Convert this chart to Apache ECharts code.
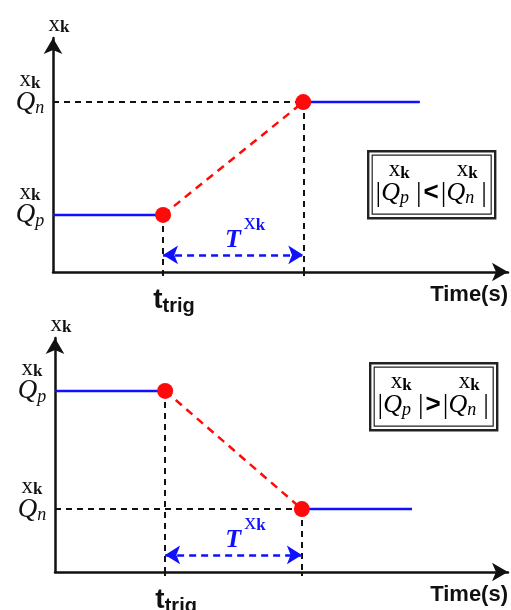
<!DOCTYPE html>
<html>
<head>
<meta charset="utf-8">
<script src="https://cdn.jsdelivr.net/npm/echarts@6/dist/echarts.min.js"></script>
<style>
  html, body { margin: 0; padding: 0; background: #fff; }
  #chart { width: 511px; height: 610px; }
</style>
</head>
<body>
<div id="chart"></div>
<script>
// Axis extents shared by both panels
const timeMax = 16;
const levelMax = 10;

// Upper panel: rising transition, |Qp| < |Qn|
// times: trace start, t_trig, t_trig + T, trace end
const upTimes = [0, 3.87, 8.8, 12.9];
const upQp = 2.44;
const upQn = 7.26;

// Lower panel: falling transition, |Qp| > |Qn|
const downTimes = [0, 3.89, 8.72, 12.61];
const downQp = 7.74;
const downQn = 2.69;

// Height at which the transition-time span arrow is drawn
const spanLevel = 0.73;

// Tick and axis texts
const timeName = 'Time(s)';
const trigLabel = '{t|t}{s|trig}';
const levelName = '{x|x}{k|k}';
const relations = ['<', '>'];

const SERIF = '"Liberation Serif", "DejaVu Serif", serif';
const SANS = '"Liberation Sans", Arial, sans-serif';
const INK = '#111';
const BLUE = '#1010ff';
const RED = '#ff0a0a';

const levelRich = {
  x: { fontFamily: SERIF, fontSize: 23, color: INK, lineHeight: 19 },
  k: { fontFamily: SERIF, fontWeight: 'bold', fontSize: 17, color: INK, lineHeight: 19, padding: [6, 0, 0, 0] },
  q: { fontFamily: SERIF, fontStyle: 'italic', fontSize: 27, color: INK, lineHeight: 26 },
  s: { fontFamily: SERIF, fontStyle: 'italic', fontSize: 18, color: INK, lineHeight: 26, padding: [12, 0, 0, 0] }
};

const trigRich = {
  t: { fontFamily: SANS, fontWeight: 'bold', fontSize: 28, color: INK, lineHeight: 28 },
  s: { fontFamily: SANS, fontWeight: 'bold', fontSize: 20, color: INK, lineHeight: 28, padding: [12, 0, 0, 0] }
};

const spanRich = {
  T: { fontFamily: SERIF, fontStyle: 'italic', fontWeight: 'bold', fontSize: 26, color: BLUE, lineHeight: 24 },
  x: { fontFamily: SERIF, fontSize: 24, color: BLUE, lineHeight: 24, padding: [0, 0, 34, 3] },
  k: { fontFamily: SERIF, fontWeight: 'bold', fontSize: 17, color: BLUE, lineHeight: 24, padding: [0, 0, 28, 0] }
};

function panelAxes(idx, times, qp, qn) {
  const xAxis = {
    type: 'value', gridIndex: idx, min: 0, max: timeMax,
    axisLine: {
      show: true, onZero: false,
      symbol: ['none', 'arrow'], symbolSize: [14, 16],
      lineStyle: { color: INK, width: 2.5 }
    },
    axisTick: {
      show: true, customValues: [times[1], times[2]], length: 4,
      lineStyle: { color: INK, width: 2 }
    },
    splitLine: { show: false },
    axisLabel: {
      customValues: [times[1]],
      formatter: () => trigLabel,
      rich: trigRich,
      margin: 14,
      padding: [0, 0, 0, 22]
    },
    name: timeName,
    nameLocation: 'end',
    nameGap: 0,
    nameTextStyle: {
      fontFamily: SANS, fontWeight: 'bold', fontSize: 22, color: INK,
      align: 'right', verticalAlign: 'top', padding: [12, 0, 0, 0]
    }
  };
  const yAxis = {
    type: 'value', gridIndex: idx, min: 0, max: levelMax,
    axisLine: {
      show: true, onZero: false,
      symbol: ['none', 'arrow'], symbolSize: [14, 16],
      lineStyle: { color: INK, width: 2.5 }
    },
    axisTick: { show: false },
    splitLine: { show: false },
    axisLabel: {
      customValues: [qp, qn],
      formatter: v => levelName + '\n' + (Math.abs(v - qn) < 1e-9 ? '{q|Q}{s|n}' : '{q|Q}{s|p}'),
      rich: levelRich,
      align: 'center',
      margin: 23,
      padding: [0, 0, 18, 0]
    },
    name: levelName,
    nameLocation: 'end',
    nameGap: 4,
    nameTextStyle: { rich: levelRich, padding: [0, 0, 0, 12] }
  };
  return { xAxis, yAxis };
}

function panelSeries(idx, times, qp, qn) {
  const [t0, t1, t2, t3] = times;
  const guide = { color: INK, width: 2, type: [6, 5] };
  return [
    {
      // black dashed guides to the axes
      type: 'line', xAxisIndex: idx, yAxisIndex: idx, data: [],
      silent: true,
      markLine: {
        silent: true, symbol: 'none', animation: false,
        label: { show: false },
        lineStyle: guide,
        data: [
          [{ coord: [0, qn] }, { coord: [t2, qn] }],
          [{ coord: [t1, qp] }, { coord: [t1, 0] }],
          [{ coord: [t2, qn] }, { coord: [t2, 0] }]
        ]
      }
    },
    {
      // transition time span
      type: 'line', xAxisIndex: idx, yAxisIndex: idx, data: [],
      silent: true,
      markLine: {
        silent: true, animation: false,
        symbol: ['arrow', 'arrow'], symbolSize: [14, 15],
        lineStyle: { color: BLUE, width: 2.5, type: [7, 5] },
        label: {
          show: true, position: 'middle', distance: 3,
          formatter: '{T|T}{x|x}{k|k}', rich: spanRich, padding: [0, 0, 0, 24]
        },
        data: [[{ coord: [t1, spanLevel] }, { coord: [t2, spanLevel] }]]
      }
    },
    {
      type: 'line', xAxisIndex: idx, yAxisIndex: idx, symbol: 'none',
      lineStyle: { color: RED, width: 2.5, type: [8, 6] },
      data: [[t1, qp], [t2, qn]], animation: false
    },
    {
      type: 'line', xAxisIndex: idx, yAxisIndex: idx, symbol: 'none',
      lineStyle: { color: BLUE, width: 2.5 },
      data: [[t0, qp], [t1, qp]], animation: false
    },
    {
      type: 'line', xAxisIndex: idx, yAxisIndex: idx, symbol: 'none',
      lineStyle: { color: BLUE, width: 2.5 },
      data: [[t2, qn], [t3, qn]], animation: false
    },
    {
      type: 'scatter', xAxisIndex: idx, yAxisIndex: idx,
      symbolSize: 16, itemStyle: { color: RED, opacity: 1 },
      data: [[t1, qp], [t2, qn]], animation: false, z: 5
    }
  ];
}

// Framed inequality between the two magnitudes
function relationBox(op, left, topPx) {
  const bar = { fontFamily: SERIF, fontSize: 28, color: INK };
  const qStyle = { fontFamily: SERIF, fontStyle: 'italic', fontSize: 26, color: INK };
  const sub = { fontFamily: SERIF, fontStyle: 'italic', fontSize: 18, color: INK, padding: [10, 0, 0, 0] };
  const opStyle = { fontFamily: SANS, fontWeight: 'bold', fontSize: 26, color: INK, padding: [0, 2, 0, 2] };
  const xk = {
    x: { fontFamily: SERIF, fontSize: 23, color: INK },
    k: { fontFamily: SERIF, fontWeight: 'bold', fontSize: 17, color: INK, padding: [6, 0, 0, 0] }
  };
  return {
    type: 'group', left: left, top: topPx,
    children: [
      { type: 'rect', shape: { x: 0, y: 0, width: 127, height: 67 }, style: { fill: '#fff', stroke: '#222', lineWidth: 2.4 } },
      { type: 'rect', shape: { x: 4, y: 4, width: 119, height: 59 }, style: { fill: 'none', stroke: '#222', lineWidth: 1.2 } },
      {
        type: 'text', x: 63, y: 42,
        style: {
          text: '{b||}{q|Q}{s|p}{b| |}{o|' + op + '}{b||}{q|Q}{s|n}{b| |}',
          align: 'center', verticalAlign: 'middle',
          rich: { b: bar, q: qStyle, s: sub, o: opStyle }
        }
      },
      { type: 'text', x: 31, y: 19, style: { text: levelName, align: 'center', verticalAlign: 'middle', rich: xk } },
      { type: 'text', x: 99, y: 19, style: { text: levelName, align: 'center', verticalAlign: 'middle', rich: xk } }
    ]
  };
}

const upperAxes = panelAxes(0, upTimes, upQp, upQn);
const lowerAxes = panelAxes(1, downTimes, downQp, downQn);

const option = {
  animation: false,
  backgroundColor: '#fff',
  grid: [
    { left: 53, top: 38, width: 455, height: 234, outerBoundsMode: 'none' },
    { left: 55, top: 338, width: 453, height: 234, outerBoundsMode: 'none' }
  ],
  xAxis: [upperAxes.xAxis, lowerAxes.xAxis],
  yAxis: [upperAxes.yAxis, lowerAxes.yAxis],
  series: [
    ...panelSeries(0, upTimes, upQp, upQn),
    ...panelSeries(1, downTimes, downQp, downQn)
  ],
  graphic: [
    relationBox(relations[0], 367, 150),
    relationBox(relations[1], 369, 362)
  ]
};

const chart = echarts.init(document.getElementById('chart'));
chart.setOption(option);
</script>
</body>
</html>
